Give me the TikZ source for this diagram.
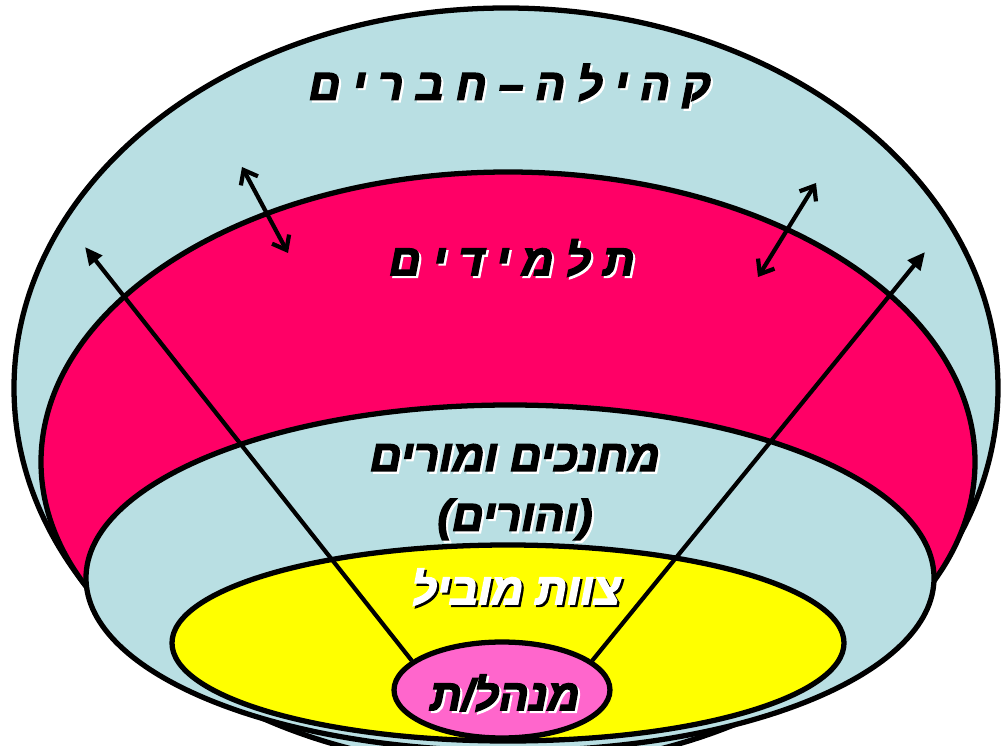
\documentclass[tikz,border=0pt]{standalone}
\usepackage{fontspec}
\newfontfamily\hebfont[Script=Hebrew,FakeBold=3.5]{Liberation Sans}
\TeXXeTstate=1
\usetikzlibrary{arrows.meta,shapes.geometric}
\definecolor{layerblue}{RGB}{185,223,227}
\definecolor{studpink}{RGB}{255,0,102}
\definecolor{leadyellow}{RGB}{255,255,0}
\definecolor{headpink}{RGB}{255,102,204}
% shadowed hebrew label: name, x, y, text colour, shadow colour, text
\newcommand{\hlabel}[6]{%
  \node[heb,text=#5] at (#2+2.2,#3+2.2) {#6};
  \node[heb,text=#4] (#1) at (#2,#3) {#6};
}

\begin{document}
\begin{tikzpicture}[x=0.02cm,y=-0.02cm,
  layer/.style={draw=black,line width=3pt},
  heb/.style={font=\hebfont\bfseries\itshape\fontsize{25}{34}\selectfont,inner sep=0pt,align=center},
  link/.style={line width=2.4pt,-{Triangle[length=10pt,width=9pt]}},
  swap/.style={line width=2.4pt,{Straight Barb[length=7pt,width=11pt]}-{Straight Barb[length=7pt,width=11pt]}}]
  \useasboundingbox (0,0) rectangle (1004,746);
  \clip (0,0) rectangle (1004,746);
  % layers, outside in
  \filldraw[layer,fill=layerblue] (506,388) ellipse (492 and 380);
  \filldraw[layer,fill=studpink] (508,462) ellipse (467 and 290);
  \filldraw[layer,fill=layerblue] (510,578) ellipse (424 and 173);
  \filldraw[layer,fill=leadyellow] (508,643) ellipse (336 and 98);
  \node[ellipse,layer,fill=headpink,minimum width=4.32cm,minimum height=1.92cm] (head) at (502,690) {};
  % free ends of the arrows
  \coordinate (outL) at (85,247);
  \coordinate (outR) at (925,252);
  \coordinate (upL) at (242,167);
  \coordinate (dnL) at (288,253);
  \coordinate (upR) at (816,183);
  \coordinate (dnR) at (758,277);
  \draw[link] (head.162) -- (outL);
  \draw[link] (head.18) -- (outR);
  \draw[swap] (upL) -- (dnL);
  \draw[swap] (upR) -- (dnR);
  % labels
  \hlabel{community}{510}{86}{black}{white}{\beginR ק ה י ל ה – ח ב ר י ם\endR}
  \hlabel{students}{512}{258}{black}{white}{\beginR ת ל מ י ד י ם\endR}
  \hlabel{teachers}{515}{492}{black}{white}{\beginR מחנכים ומורים\endR\\\beginR (והורים)\endR}
  \hlabel{leaders}{516}{587}{white}{black}{\beginR צוות מוביל\endR}
  \hlabel{principal}{505}{693}{black}{white}{\beginR מנהל/ת\endR}
\end{tikzpicture}
\end{document}
